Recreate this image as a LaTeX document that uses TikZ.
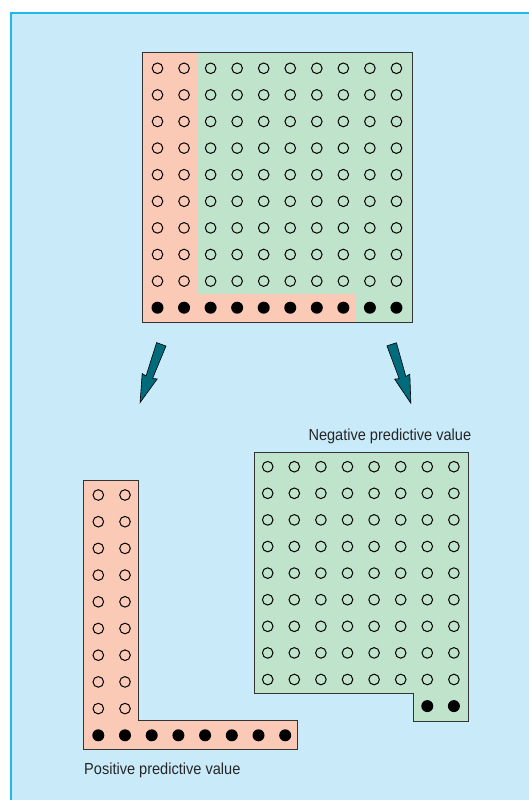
\documentclass[tikz,border=0pt]{standalone}
\usepackage{fontspec}
\newfontfamily\lblfont{Liberation Sans}[FakeStretch=0.91]
\begin{document}
\begin{tikzpicture}[x=1pt,y=-1pt,
  opencirc/.style={circle,draw=black,line width=1pt,minimum size=10.6pt,inner sep=0pt},
  filldot/.style={circle,fill=black,minimum size=12pt,inner sep=0pt},
  outline/.style={draw=black!80,line width=1pt},
  arrowshape/.style={fill=arrowteal,draw=black,line width=0.6pt,line join=miter},
  lbl/.style={inner sep=0pt,text=black!85,font=\lblfont\fontsize{16}{19}\selectfont}]
\definecolor{bgblue}{HTML}{C8EAF9}
\definecolor{bordercyan}{HTML}{1DB8EC}
\definecolor{pinkfill}{HTML}{FBCAB6}
\definecolor{greenfill}{HTML}{BFE3CB}
\definecolor{arrowteal}{HTML}{006B7B}
\useasboundingbox (0,0) rectangle (529,800);
\fill[white] (0,0) rectangle (529,800);
% background panel
\fill[bgblue] (10,12) rectangle (529,800);
\draw[bordercyan,line width=1.6pt] (10.8,800) -- (10.8,12.8) -- (529,12.8);

% ---------- top grid ----------
\fill[pinkfill] (142,53) -- (197,53) -- (197,294) -- (356,294) -- (356,322) -- (142,322) -- cycle;
\fill[greenfill] (197,53) -- (412,53) -- (412,322) -- (356,322) -- (356,294) -- (197,294) -- cycle;
\draw[outline] (142,53) rectangle (412,322);
\foreach \i in {0,...,9}{
  \foreach \j in {0,...,8}{
    \node[opencirc] (t-\i-\j) at ({157.5+26.55*\i},{68.3+26.6*\j}) {};
  }
  \node[filldot] (t-\i-9) at ({157.5+26.55*\i},{68.3+26.6*9}) {};
}

% ---------- arrows ----------
\coordinate (la) at (161.3,344.3);
\coordinate (ra) at (391.7,344.3);
\begin{scope}[shift={(la)},rotate=-20]
  \path[arrowshape] (-5,0) -- (5,0) -- (3.5,35) -- (8,34) -- (0,62) -- (-8,34) -- (-3.5,35) -- cycle;
\end{scope}
\begin{scope}[shift={(ra)},rotate=18]
  \path[arrowshape] (-5,0) -- (5,0) -- (3.5,35) -- (8,34) -- (0,62) -- (-8,34) -- (-3.5,35) -- cycle;
\end{scope}

% ---------- lower left L (positive) ----------
\fill[pinkfill] (83.5,480) -- (138.5,480) -- (138.5,720) -- (297.5,720) -- (297.5,749) -- (83.5,749) -- cycle;
\draw[outline] (83.5,480) -- (138.5,480) -- (138.5,720) -- (297.5,720) -- (297.5,749) -- (83.5,749) -- cycle;
\foreach \i in {0,1}{
  \foreach \j in {0,...,8}{
    \node[opencirc] (p-\i-\j) at ({98.3+26.7*\i},{495+26.7*\j}) {};
  }
}
\foreach \i in {0,...,7}{
  \node[filldot] (p-\i-9) at ({98.3+26.7*\i},{495+26.7*9}) {};
}
\node[lbl,anchor=base west] (poslbl) at (84,774) {Positive predictive value};

% ---------- lower right (negative) ----------
\fill[greenfill] (254.5,452.7) -- (468.7,452.7) -- (468.7,721.5) -- (413.5,721.5) -- (413.5,693.3) -- (254.5,693.3) -- cycle;
\draw[outline] (254.5,452.7) -- (468.7,452.7) -- (468.7,721.5) -- (413.5,721.5) -- (413.5,693.3) -- (254.5,693.3) -- cycle;
\foreach \i in {0,...,7}{
  \foreach \j in {0,...,8}{
    \node[opencirc] (n-\i-\j) at ({267.7+26.6*\i},{466.7+26.6*\j}) {};
  }
}
\node[filldot] (n-6-9) at ({267.7+26.6*6},{466.7+26.6*9}) {};
\node[filldot] (n-7-9) at ({267.7+26.6*7},{466.7+26.6*9}) {};
\node[lbl,anchor=base west] (neglbl) at (308.3,440) {Negative predictive value};
\end{tikzpicture}
\end{document}
